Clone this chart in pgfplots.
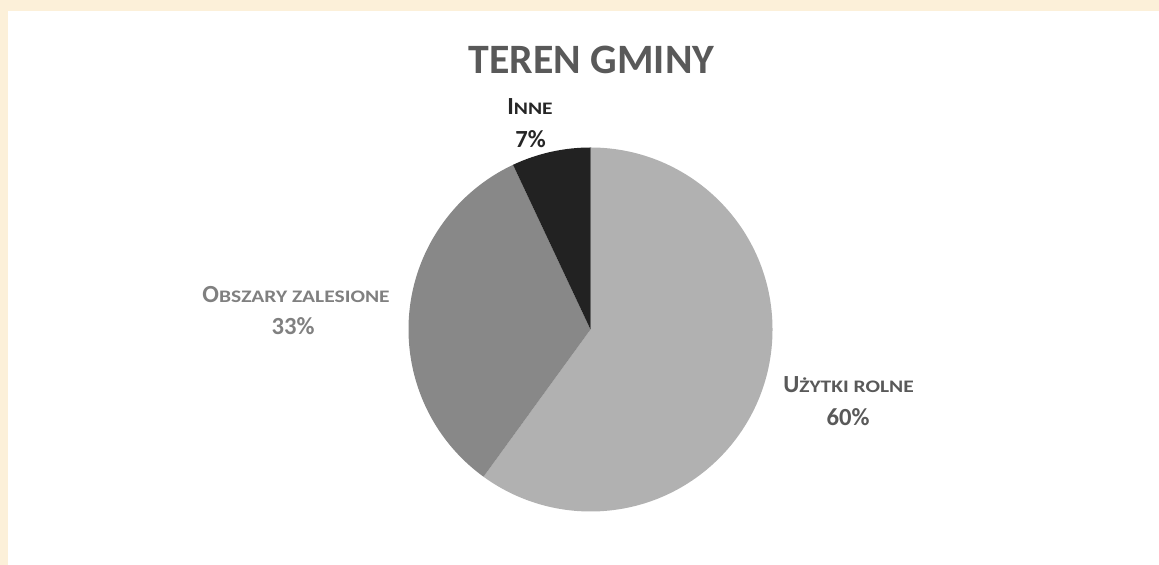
\documentclass[border=0pt]{standalone}
\usepackage{fontspec}
\setmainfont{Carlito}
\usepackage{graphicx}
\usepackage{pgfplots}
\pgfplotsset{compat=1.18}
\definecolor{cream}{HTML}{FCF0D9}
\definecolor{sliceA}{HTML}{B1B1B1}
\definecolor{sliceB}{HTML}{888888}
\definecolor{sliceC}{HTML}{222222}
\definecolor{titlecol}{HTML}{595959}
\definecolor{labA}{HTML}{595959}
\definecolor{labB}{HTML}{808080}
\definecolor{labC}{HTML}{262626}
% data (percent)
\def\valA{60}% Użytki rolne
\def\valB{33}% Obszary zalesione
\def\valC{7}% Inne
\pgfmathsetmacro{\aStart}{90}
\pgfmathsetmacro{\aEnd}{90-3.6*\valA}
\pgfmathsetmacro{\bEnd}{\aEnd-3.6*\valB}
\pgfmathsetmacro{\cEnd}{\bEnd-3.6*\valC}
\newcommand{\lab}{\fontsize{12.3}{14}\selectfont\bfseries}
\newcommand{\smc}[1]{\scalebox{1.22}[1]{\fontsize{8.8}{10}\selectfont #1}}
\begin{document}
\begin{tikzpicture}
\begin{axis}[width=579.5pt,height=282.5pt,scale only axis,
  xmin=0,xmax=1159,ymin=0,ymax=565,hide axis,clip=false]
\fill[cream] (axis cs:0,0) rectangle (axis cs:1159,565);
\fill[white] (axis cs:8,0) rectangle (axis cs:1159,554);
% pie: center (590.5,235.5), radius 182 units = 91pt
\fill[sliceA] (axis cs:590.5,235.5) -- ++(\aStart:91pt) arc[start angle=\aStart,end angle=\aEnd,radius=91pt] -- cycle;
\fill[sliceB] (axis cs:590.5,235.5) -- ++(\aEnd:91pt) arc[start angle=\aEnd,end angle=\bEnd,radius=91pt] -- cycle;
\fill[sliceC] (axis cs:590.5,235.5) -- ++(\bEnd:91pt) arc[start angle=\bEnd,end angle=\cEnd,radius=91pt] -- cycle;
% title
\node[anchor=base,text=titlecol,inner sep=0pt,font=\fontsize{20.9}{24}\selectfont\bfseries] at (axis cs:591.5,491.7) {TEREN GMINY};
% labels
\node[anchor=base,text=labC,inner sep=0pt,font=\lab] at (axis cs:530,450.7) {I\smc{NNE}};
\node[anchor=base,text=labC,inner sep=0pt,font=\lab] at (axis cs:530.5,417.7) {7\%};
\node[anchor=base,text=labB,inner sep=0pt,font=\lab] at (axis cs:296,262) {O\smc{BSZARY ZALESIONE}};
\node[anchor=base,text=labB,inner sep=0pt,font=\lab] at (axis cs:293,230) {33\%};
\node[anchor=base,text=labA,inner sep=0pt,font=\lab] at (axis cs:848.5,172.5) {U\smc{ŻYTKI ROLNE}};
\node[anchor=base,text=labA,inner sep=0pt,font=\lab] at (axis cs:848,139.5) {60\%};
\end{axis}
\end{tikzpicture}
\end{document}
